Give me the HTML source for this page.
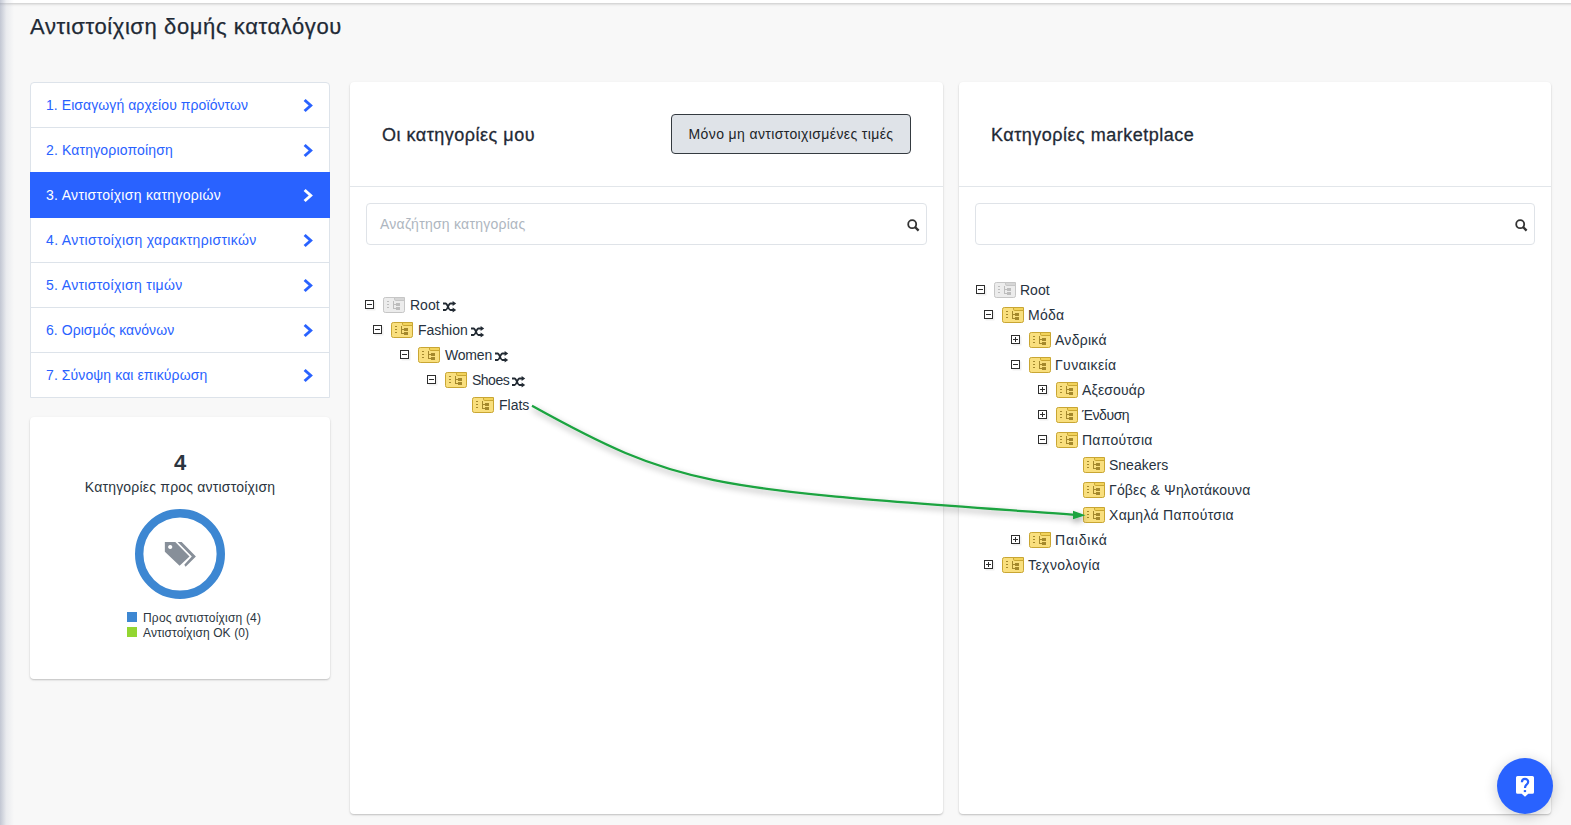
<!DOCTYPE html>
<html><head><meta charset="utf-8">
<style>
*{box-sizing:border-box;margin:0;padding:0}
html,body{width:1571px;height:825px;overflow:hidden}
body{background:#f8f8f8;font-family:"Liberation Sans",sans-serif;color:#212529;position:relative}
.abs{position:absolute}
#topbar{left:-20px;top:0;width:1620px;height:3px;background:#fff;box-shadow:0 1px 3px rgba(0,0,0,.22)}
#leftsh{left:0;top:0;width:14px;height:825px;background:linear-gradient(to right,rgba(150,158,180,.55),rgba(190,195,210,.25) 45%,rgba(247,247,247,0))}
#title{left:30px;top:14px;font-size:22px;color:#1f2a36;white-space:nowrap;letter-spacing:.6px;-webkit-text-stroke:.25px #1f2a36}
/* sidebar */
#steps{left:30px;top:82px;width:300px;height:316px;background:#fff;border:1px solid #dde3ea;border-radius:4px 4px 0 0}
.step{position:absolute;left:-1px;width:300px;height:46px;border-top:1px solid #dde3ea;color:#2962ff;font-size:14px;line-height:45px;padding-left:16px;white-space:nowrap}
.step.first{border-top:none;line-height:47px}
.step.first .chev{top:16px}
.step.active{background:#2962ff;color:#fff;border-top-color:#2962ff;z-index:2}
.chev{position:absolute;left:272px;top:15px;width:12px;height:15px}
#stats{left:30px;top:417px;width:300px;height:262px;background:#fff;border-radius:4px;box-shadow:0 1px 3px rgba(0,0,0,.1),0 1px 1.5px rgba(0,0,0,.14)}
/* panels */
.panel{top:82px;width:593px;height:732px;background:#fff;border-radius:4px;box-shadow:0 1px 3px rgba(0,0,0,.1),0 1px 1.5px rgba(0,0,0,.14)}
#pmid{left:350px}
#pright{left:959px;width:592px}
#pright .phead{width:592px}
#pright .search{width:560px}
#pright .sicon{left:539px}
.phead{position:absolute;left:0;top:0;width:593px;height:105px;border-bottom:1px solid #e2e6ea}
.ptitle{position:absolute;left:32px;top:43px;font-size:18px;color:#1f2a36;white-space:nowrap;letter-spacing:.5px;-webkit-text-stroke:.3px #1f2a36}
.search{position:absolute;left:16px;top:121px;width:561px;height:42px;border:1px solid #dfe3e8;border-radius:4px}
.ph{position:absolute;left:13px;top:12px;font-size:14px;color:#aeb6c0;white-space:nowrap;letter-spacing:.25px}
.sicon{position:absolute;left:540px;top:15px;width:13px;height:13px}
#btn{left:321px;top:32px;width:240px;height:40px;background:#dfe3e8;border:1px solid #343a40;border-radius:4px;font-size:14px;color:#212529;white-space:nowrap;line-height:38px;text-align:center;letter-spacing:.38px}
/* tree */
.row{position:absolute;height:25px;white-space:nowrap;font-size:14px;color:#1f2a3a}
.exp{position:absolute;top:3px;width:10px;height:10px}
.ico{position:absolute;top:0;width:22px;height:16px}
.lbl{font-size:14px;color:#273240;white-space:nowrap;line-height:18px}
#help{left:1497px;top:758px;width:56px;height:56px;border-radius:50%;background:#2962ff;box-shadow:0 3px 14px rgba(0,0,0,.2)}
</style></head>
<body>
<div id="topbar" class="abs"></div>
<div id="leftsh" class="abs"></div>
<div id="title" class="abs">Αντιστοίχιση δομής καταλόγου</div>

<div id="steps" class="abs">
<div class="step first" style="top:-1px"><span style="letter-spacing:0.07px">1. Εισαγωγή αρχείου προϊόντων</span><svg class="chev" viewBox="0 0 12 15"><path d="M3.6 1 L10.9 7.5 L3.6 14 L1.6 12 L6.7 7.5 L1.6 3 Z" fill="#2962ff"/></svg></div>
<div class="step" style="top:44px"><span style="letter-spacing:0.15px">2. Κατηγοριοποίηση</span><svg class="chev" viewBox="0 0 12 15"><path d="M3.6 1 L10.9 7.5 L3.6 14 L1.6 12 L6.7 7.5 L1.6 3 Z" fill="#2962ff"/></svg></div>
<div class="step active" style="top:89px"><span style="letter-spacing:0.3px">3. Αντιστοίχιση κατηγοριών</span><svg class="chev" viewBox="0 0 12 15"><path d="M3.6 1 L10.9 7.5 L3.6 14 L1.6 12 L6.7 7.5 L1.6 3 Z" fill="#fff"/></svg></div>
<div class="step" style="top:134px"><span style="letter-spacing:0.35px">4. Αντιστοίχιση χαρακτηριστικών</span><svg class="chev" viewBox="0 0 12 15"><path d="M3.6 1 L10.9 7.5 L3.6 14 L1.6 12 L6.7 7.5 L1.6 3 Z" fill="#2962ff"/></svg></div>
<div class="step" style="top:179px"><span style="letter-spacing:0.32px">5. Αντιστοίχιση τιμών</span><svg class="chev" viewBox="0 0 12 15"><path d="M3.6 1 L10.9 7.5 L3.6 14 L1.6 12 L6.7 7.5 L1.6 3 Z" fill="#2962ff"/></svg></div>
<div class="step" style="top:224px"><span style="letter-spacing:0.05px">6. Ορισμός κανόνων</span><svg class="chev" viewBox="0 0 12 15"><path d="M3.6 1 L10.9 7.5 L3.6 14 L1.6 12 L6.7 7.5 L1.6 3 Z" fill="#2962ff"/></svg></div>
<div class="step" style="top:269px"><span style="letter-spacing:0.09px">7. Σύνοψη και επικύρωση</span><svg class="chev" viewBox="0 0 12 15"><path d="M3.6 1 L10.9 7.5 L3.6 14 L1.6 12 L6.7 7.5 L1.6 3 Z" fill="#2962ff"/></svg></div>
</div>

<div id="stats" class="abs">
  <div class="abs" style="left:0;top:33px;width:300px;text-align:center;font-size:22px;font-weight:bold;color:#2b3540">4</div>
  <div class="abs" style="left:0;top:62px;width:300px;text-align:center;font-size:14px;color:#2b3540;letter-spacing:.2px">Κατηγορίες προς αντιστοίχιση</div>
  <svg class="abs" style="left:105px;top:92px" width="90" height="90" viewBox="0 0 90 90">
    <circle cx="45" cy="45" r="40.8" fill="none" stroke="#3d87d2" stroke-width="8.4"/>
  </svg>
  <div class="abs" style="left:97px;top:195px;width:10px;height:10px;background:#3d87d2"></div>
  <div class="abs" style="left:97px;top:210px;width:10px;height:10px;background:#93d631"></div>
  <div class="abs" style="left:113px;top:194px;font-size:12px;color:#2b3540;white-space:nowrap;line-height:15px"><span style="letter-spacing:.2px">Προς αντιστοίχιση (4)</span><br><span style="letter-spacing:.1px">Αντιστοίχιση ΟΚ (0)</span></div>
</div>

<div id="pmid" class="abs panel">
  <div class="phead">
    <div class="ptitle">Οι κατηγορίες μου</div>
    <div id="btn" class="abs">Μόνο μη αντιστοιχισμένες τιμές</div>
  </div>
  <div class="search"><div class="ph">Αναζήτηση κατηγορίας</div><svg class="sicon" viewBox="0 0 13 13"><circle cx="5.2" cy="5.2" r="4" fill="none" stroke="#333" stroke-width="1.8"/><path d="M8 8 L11.6 11.6" stroke="#333" stroke-width="2.4" stroke-linecap="butt"/></svg></div>
</div>

<div id="pright" class="abs panel">
  <div class="phead">
    <div class="ptitle">Κατηγορίες marketplace</div>
  </div>
  <div class="search"><svg class="sicon" viewBox="0 0 13 13"><circle cx="5.2" cy="5.2" r="4" fill="none" stroke="#333" stroke-width="1.8"/><path d="M8 8 L11.6 11.6" stroke="#333" stroke-width="2.4" stroke-linecap="butt"/></svg></div>
</div>

<svg width="0" height="0" style="position:absolute">
<defs>
<symbol id="fy" viewBox="0 0 22 16">
 <rect x="0.5" y="0.5" width="21" height="15" rx="1.8" fill="#f9df7e" stroke="#c9a633"/>
 <path d="M11.5 0.5 H21.5 V3.5 H12.8 Q11.5 3.5 11.5 2.2 Z" fill="#f2d35c" stroke="#c9a633"/>
 <rect x="4" y="4" width="2" height="1" fill="#a4882c"/>
 <rect x="4" y="7" width="2" height="1" fill="#a4882c"/>
 <rect x="4" y="10" width="2" height="1" fill="#a4882c"/>
 <rect x="10" y="4" width="1" height="8" fill="#a4882c"/>
 <rect x="10" y="7" width="3" height="1" fill="#a4882c"/>
 <rect x="10" y="11" width="3" height="1" fill="#a4882c"/>
 <rect x="13" y="6" width="4" height="3" fill="#a4882c"/>
 <rect x="13" y="10" width="4" height="3" fill="#a4882c"/>
</symbol>
<symbol id="fg" viewBox="0 0 22 16">
 <rect x="0.5" y="0.5" width="21" height="15" rx="1.8" fill="#ececec" stroke="#c6c6c6"/>
 <path d="M11.5 0.5 H21.5 V3.5 H12.8 Q11.5 3.5 11.5 2.2 Z" fill="#d6d6d6" stroke="#c6c6c6"/>
 <rect x="4" y="4" width="2" height="1" fill="#bdbdbd"/>
 <rect x="4" y="7" width="2" height="1" fill="#bdbdbd"/>
 <rect x="4" y="10" width="2" height="1" fill="#bdbdbd"/>
 <rect x="10" y="4" width="1" height="8" fill="#bdbdbd"/>
 <rect x="10" y="7" width="3" height="1" fill="#bdbdbd"/>
 <rect x="10" y="11" width="3" height="1" fill="#bdbdbd"/>
 <rect x="13" y="6" width="4" height="3" fill="#bdbdbd"/>
 <rect x="13" y="10" width="4" height="3" fill="#bdbdbd"/>
</symbol>
<symbol id="em" viewBox="0 0 11 11">
 <rect x="1.5" y="1.5" width="9" height="9" fill="#e6e6e6" opacity=".6"/>
 <rect x="0.5" y="0.5" width="8" height="8" fill="#fff" stroke="#2e2e2e"/>
 <rect x="2" y="4" width="5" height="1" fill="#2e2e2e"/>
</symbol>
<symbol id="ep" viewBox="0 0 11 11">
 <rect x="1.5" y="1.5" width="9" height="9" fill="#e6e6e6" opacity=".6"/>
 <rect x="0.5" y="0.5" width="8" height="8" fill="#fff" stroke="#2e2e2e"/>
 <rect x="2" y="4" width="5" height="1" fill="#2e2e2e"/>
 <rect x="4" y="2" width="1" height="5" fill="#2e2e2e"/>
</symbol>
<symbol id="sh" viewBox="0 0 14 12">
 <path d="M0 2.5 H2.6 C4.6 2.5 5.4 9 7.4 9 H10" fill="none" stroke="#222a33" stroke-width="1.8"/>
 <path d="M0 9 H2.6 C4.6 9 5.4 2.5 7.4 2.5 H10" fill="none" stroke="#222a33" stroke-width="1.8"/>
 <path d="M9.6 0 L13.2 2.5 L9.6 5 Z" fill="#222a33"/>
 <path d="M9.6 6.5 L13.2 9 L9.6 11.5 Z" fill="#222a33"/>
</symbol>
</defs></svg>
<div id="tree">
<svg class="abs" style="left:365px;top:300px" width="11" height="11"><use href="#em"/></svg><svg class="abs" style="left:383px;top:297px" width="22" height="16"><use href="#fg"/></svg><div class="abs lbl" style="left:410px;top:296px">Root<svg style="display:inline-block;vertical-align:-3px;margin-left:3px" width="14" height="12"><use href="#sh"/></svg></div>
<svg class="abs" style="left:373px;top:325px" width="11" height="11"><use href="#em"/></svg><svg class="abs" style="left:391px;top:322px" width="22" height="16"><use href="#fy"/></svg><div class="abs lbl" style="left:418px;top:321px">Fashion<svg style="display:inline-block;vertical-align:-3px;margin-left:3px" width="14" height="12"><use href="#sh"/></svg></div>
<svg class="abs" style="left:400px;top:350px" width="11" height="11"><use href="#em"/></svg><svg class="abs" style="left:418px;top:347px" width="22" height="16"><use href="#fy"/></svg><div class="abs lbl" style="left:445px;top:346px;letter-spacing:-.2px">Women<svg style="display:inline-block;vertical-align:-3px;margin-left:3px" width="14" height="12"><use href="#sh"/></svg></div>
<svg class="abs" style="left:427px;top:375px" width="11" height="11"><use href="#em"/></svg><svg class="abs" style="left:445px;top:372px" width="22" height="16"><use href="#fy"/></svg><div class="abs lbl" style="left:472px;top:371px;letter-spacing:-.5px">Shoes<svg style="display:inline-block;vertical-align:-3px;margin-left:3px" width="14" height="12"><use href="#sh"/></svg></div>
<svg class="abs" style="left:472px;top:397px" width="22" height="16"><use href="#fy"/></svg><div class="abs lbl" style="left:499px;top:396px">Flats</div>
<svg class="abs" style="left:976px;top:285px" width="11" height="11"><use href="#em"/></svg><svg class="abs" style="left:994px;top:282px" width="22" height="16"><use href="#fg"/></svg><div class="abs lbl" style="left:1020px;top:281px">Root</div>
<svg class="abs" style="left:984px;top:310px" width="11" height="11"><use href="#em"/></svg><svg class="abs" style="left:1002px;top:307px" width="22" height="16"><use href="#fy"/></svg><div class="abs lbl" style="left:1028px;top:306px;letter-spacing:0.27px">Μόδα</div>
<svg class="abs" style="left:1011px;top:335px" width="11" height="11"><use href="#ep"/></svg><svg class="abs" style="left:1029px;top:332px" width="22" height="16"><use href="#fy"/></svg><div class="abs lbl" style="left:1055px;top:331px;letter-spacing:0.28px">Ανδρικά</div>
<svg class="abs" style="left:1011px;top:360px" width="11" height="11"><use href="#em"/></svg><svg class="abs" style="left:1029px;top:357px" width="22" height="16"><use href="#fy"/></svg><div class="abs lbl" style="left:1055px;top:356px;letter-spacing:0.39px">Γυναικεία</div>
<svg class="abs" style="left:1038px;top:385px" width="11" height="11"><use href="#ep"/></svg><svg class="abs" style="left:1056px;top:382px" width="22" height="16"><use href="#fy"/></svg><div class="abs lbl" style="left:1082px;top:381px;letter-spacing:0.14px">Αξεσουάρ</div>
<svg class="abs" style="left:1038px;top:410px" width="11" height="11"><use href="#ep"/></svg><svg class="abs" style="left:1056px;top:407px" width="22" height="16"><use href="#fy"/></svg><div class="abs lbl" style="left:1082px;top:406px;letter-spacing:-0.45px">Ένδυση</div>
<svg class="abs" style="left:1038px;top:435px" width="11" height="11"><use href="#em"/></svg><svg class="abs" style="left:1056px;top:432px" width="22" height="16"><use href="#fy"/></svg><div class="abs lbl" style="left:1082px;top:431px;letter-spacing:0.26px">Παπούτσια</div>
<svg class="abs" style="left:1083px;top:457px" width="22" height="16"><use href="#fy"/></svg><div class="abs lbl" style="left:1109px;top:456px">Sneakers</div>
<svg class="abs" style="left:1083px;top:482px" width="22" height="16"><use href="#fy"/></svg><div class="abs lbl" style="left:1109px;top:481px;letter-spacing:0.17px">Γόβες &amp; Ψηλοτάκουνα</div>
<svg class="abs" style="left:1083px;top:507px" width="22" height="16"><use href="#fy"/></svg><div class="abs lbl" style="left:1109px;top:506px;letter-spacing:0.29px">Χαμηλά Παπούτσια</div>
<svg class="abs" style="left:1011px;top:535px" width="11" height="11"><use href="#ep"/></svg><svg class="abs" style="left:1029px;top:532px" width="22" height="16"><use href="#fy"/></svg><div class="abs lbl" style="left:1055px;top:531px;letter-spacing:0.8px">Παιδικά</div>
<svg class="abs" style="left:984px;top:560px" width="11" height="11"><use href="#ep"/></svg><svg class="abs" style="left:1002px;top:557px" width="22" height="16"><use href="#fy"/></svg><div class="abs lbl" style="left:1028px;top:556px;letter-spacing:0.43px">Τεχνολογία</div>
</div>
<svg class="abs" style="left:160px;top:538px" width="40" height="32" viewBox="160 538 40 32">
 <path d="M164.85 542.07 H175.3 L189.5 556.4 L179.6 565.75 L164.85 551.8 Z M170.2 544.9 a2.1 2.1 0 1 0 0.01 0 Z" fill="#878f99" fill-rule="evenodd"/>
 <path d="M177.65 542.07 H181.7 L195.9 556.6 L185.6 566.7 L184.25 564.8 L191.8 556.6 Z" fill="#878f99"/>
</svg>
<svg class="abs" style="left:0;top:0;pointer-events:none" width="1571" height="825">
 <defs><filter id="ds" x="-5%" y="-20%" width="110%" height="140%"><feDropShadow dx="1" dy="3" stdDeviation="3" flood-color="#000" flood-opacity=".4"/></filter></defs>
 <g filter="url(#ds)">
 <path d="M532 405.8 C683.4 489.7 708 488.3 1075 514.85" fill="none" stroke="#1aa33f" stroke-width="2.2"/>
 <path d="M1073 510.8 L1085.5 515.2 L1073 519.2 Z" fill="#1aa33f"/>
 </g>
</svg>
<div id="help" class="abs"><svg class="abs" style="left:19px;top:18px" width="18" height="21" viewBox="0 0 18 21">
 <path d="M1.6 0 H16.4 Q18 0 18 1.6 V16.2 Q18 17.8 16.4 17.8 H12.3 L9 20.8 L5.7 17.8 H1.6 Q0 17.8 0 16.2 V1.6 Q0 0 1.6 0 Z" fill="#fff"/>
 <path d="M5.9 6.3 C5.9 4.1 7.3 2.9 9 2.9 C10.9 2.9 12.2 4.1 12.2 5.8 C12.2 7.4 11.1 8.2 10.3 8.9 C9.5 9.6 9 10.3 9 11.9" fill="none" stroke="#2962ff" stroke-width="2.2"/>
 <rect x="7.8" y="14.1" width="2.3" height="2" fill="#2962ff"/>
</svg></div>
</body></html>
